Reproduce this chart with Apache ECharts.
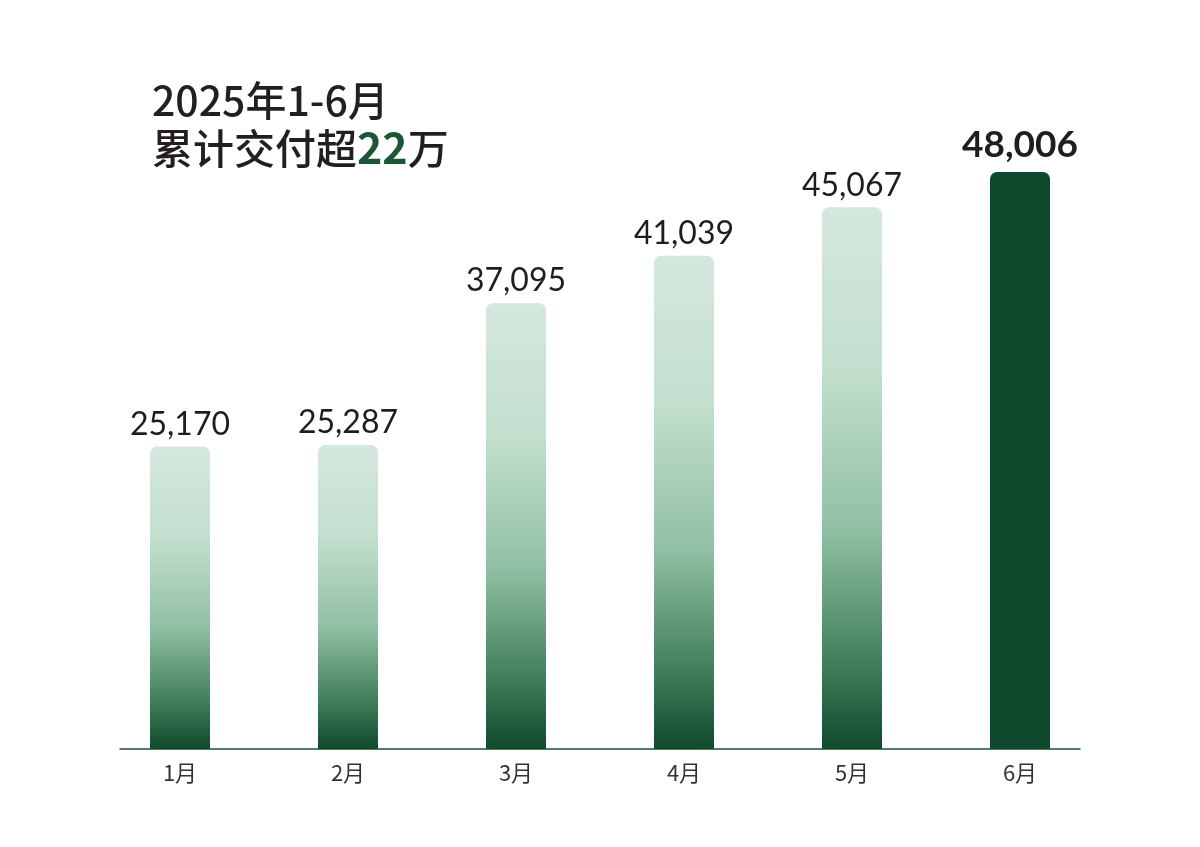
<!DOCTYPE html>
<html>
<head>
<meta charset="utf-8">
<script src="https://cdn.jsdelivr.net/npm/echarts@6/dist/echarts.min.js"></script>
<style>
html, body { margin: 0; padding: 0; background: #fff; }
#container { width: 1200px; height: 847px; }
</style>
</head>
<body>
<div id="container"></div>
<script>
var months = ['1月', '2月', '3月', '4月', '5月', '6月'];
var deliveries = [25170, 25287, 37095, 41039, 45067, 48006];
var highlightIndex = 5;

var dom = document.getElementById('container');
var myChart = echarts.init(dom);

var fadeGreen = new echarts.graphic.LinearGradient(0, 0, 0, 1, [
    { offset: 0, color: '#d4e8dd' },
    { offset: 0.3, color: '#c3dfce' },
    { offset: 0.6, color: '#8fbfa2' },
    { offset: 0.85, color: '#3e7c58' },
    { offset: 1, color: '#0f4a2c' }
]);

var barData = deliveries.map(function (v, i) {
    if (i === highlightIndex) {
        return {
            value: v,
            itemStyle: { color: '#0d4a2d' },
            label: { fontSize: 37, fontWeight: 'bold', color: '#1e1e1e', distance: 8 }
        };
    }
    return v;
});

var option = {
    backgroundColor: '#fff',
    animation: false,
    title: {
        left: 147,
        top: 71,
        text: '{a|2025年1-6月}\n{a|累计交付超}{g|22}{a|万}',
        textStyle: {
            rich: {
                a: {
                    fontFamily: 'Noto Sans CJK SC',
                    fontSize: 41,
                    fontWeight: 500,
                    color: '#231f20',
                    lineHeight: 48
                },
                g: {
                    fontFamily: 'Noto Sans CJK SC',
                    fontSize: 43,
                    fontWeight: 'bold',
                    color: '#1b5635',
                    lineHeight: 48
                }
            }
        }
    },
    grid: [
        { left: 96, right: 96, top: 100, bottom: 98 },
        { left: 120, right: 120, top: 100, bottom: 98 }
    ],
    xAxis: [{
        type: 'category',
        gridIndex: 0,
        data: months,
        axisLine: { show: false },
        axisTick: { show: false },
        axisLabel: {
            margin: 13,
            fontSize: 22,
            color: '#333',
            fontFamily: 'Noto Sans CJK SC'
        }
    }, {
        type: 'category',
        gridIndex: 1,
        data: months,
        axisLine: { show: true, lineStyle: { color: '#1f4d36', width: 1.5 } },
        axisTick: { show: false },
        axisLabel: { show: false }
    }],
    yAxis: [{
        type: 'value',
        gridIndex: 0,
        min: 0,
        max: 54000,
        show: false,
        splitLine: { show: false }
    }, {
        type: 'value',
        gridIndex: 1,
        min: 0,
        max: 54000,
        show: false,
        splitLine: { show: false }
    }],
    series: [{
        name: 'deliveries',
        type: 'bar',
        xAxisIndex: 0,
        yAxisIndex: 0,
        barWidth: 60,
        data: barData,
        itemStyle: {
            color: fadeGreen,
            borderRadius: [7, 7, 0, 0]
        },
        label: {
            show: true,
            position: 'top',
            distance: 6,
            fontFamily: 'Lato',
            fontSize: 32,
            color: '#1e1e1e',
            formatter: function (p) {
                return p.value.toLocaleString('en-US');
            }
        }
    }]
};

if (option && typeof option === 'object') {
    myChart.setOption(option, true);
}
</script>
</body>
</html>
